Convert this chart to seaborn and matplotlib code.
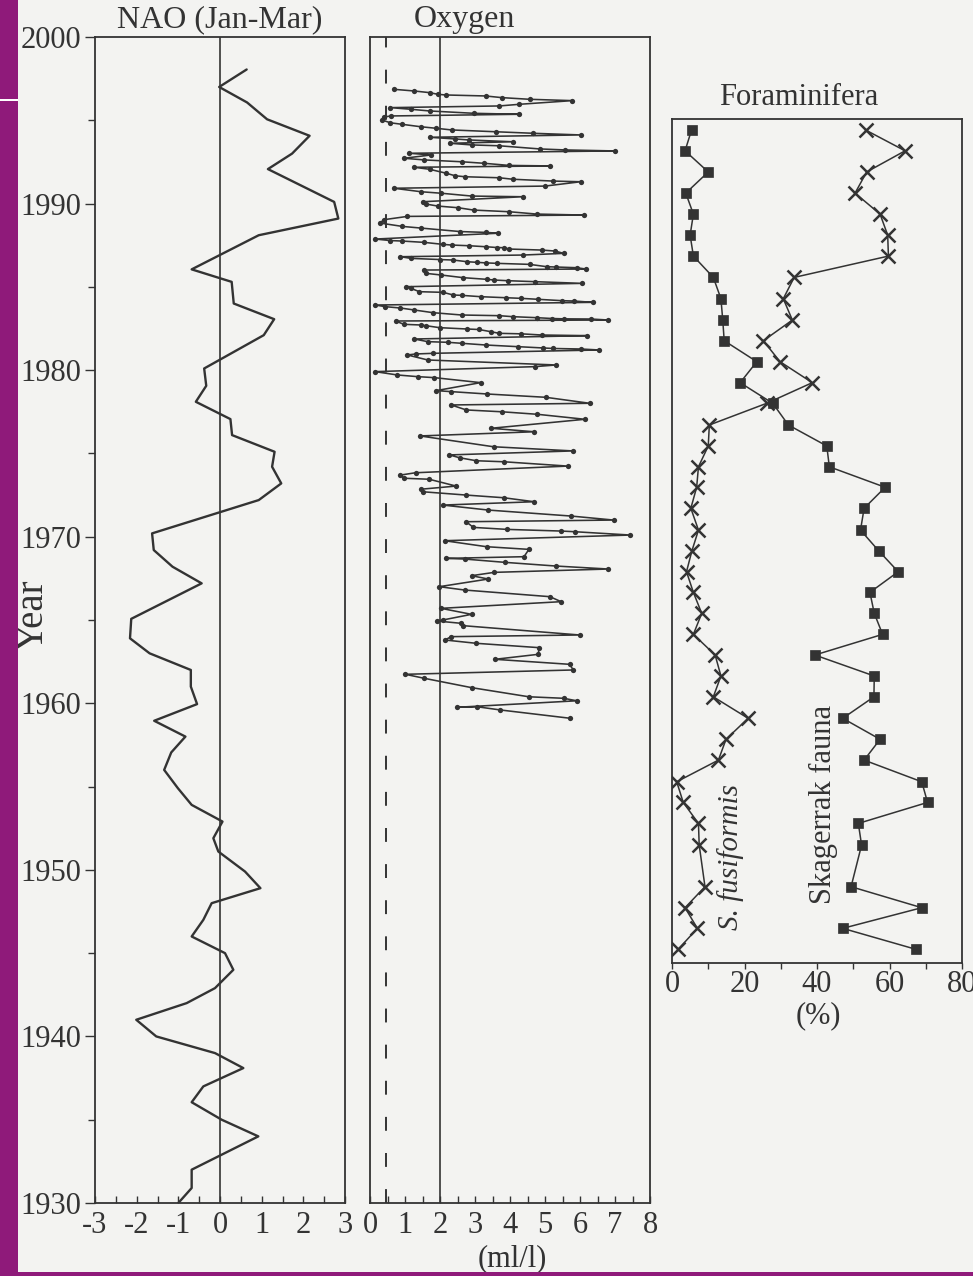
import numpy as np
import pandas as pd
import matplotlib
matplotlib.use("Agg")
import matplotlib.pyplot as plt
from matplotlib.patches import Rectangle
from matplotlib.ticker import MultipleLocator
import seaborn as sns

# ---------------- data ----------------
nao_year = [1998.05, 1997.0, 1996.07, 1995.06, 1994.07, 1993.0, 1992.07, 1990.1, 1989.1, 1988.1,
            1986.05, 1985.3, 1984.0, 1983.06, 1982.1, 1980.1, 1979.06, 1978.1, 1977.06, 1976.1,
            1975.1, 1974.2, 1973.2, 1972.2, 1970.2, 1969.2, 1968.2, 1967.2, 1965.07, 1963.9,
            1963.0, 1962.0, 1961.0, 1959.95, 1958.95, 1958.0, 1957.05, 1956.0, 1954.9, 1953.9,
            1952.9, 1951.9, 1951.1, 1949.9, 1948.9, 1948.0, 1947.0, 1946.0, 1945.0, 1944.0,
            1942.9, 1942.0, 1941.0, 1940.0, 1939.0, 1938.1, 1937.0, 1936.05, 1935.0, 1934.0,
            1932.0, 1930.9, 1930.0]
nao_val = [0.64, -0.02, 0.65, 1.13, 2.15, 1.73, 1.15, 2.74, 2.84, 0.93,
           -0.68, 0.28, 0.33, 1.30, 1.05, -0.38, -0.33, -0.58, 0.25, 0.29,
           1.31, 1.25, 1.47, 0.93, -1.63, -1.59, -1.14, -0.44, -2.13, -2.16,
           -1.69, -0.70, -0.70, -0.55, -1.58, -0.83, -1.17, -1.34, -1.01, -0.68,
           0.06, -0.16, -0.04, 0.60, 0.97, -0.20, -0.40, -0.68, 0.12, 0.32,
           -0.12, -0.80, -2.01, -1.53, -0.12, 0.56, -0.40, -0.68, 0.04, 0.92,
           -0.68, -0.68, -1.00]

oxy_year = [1959.10, 1959.60, 1959.79, 1959.76, 1960.15, 1960.30, 1960.39, 1960.94, 1961.50, 1961.74,
            1962.00, 1962.34, 1962.64, 1962.94, 1963.34, 1963.60, 1963.80, 1964.00, 1964.10, 1964.66,
            1964.80, 1964.94, 1965.00, 1965.34, 1965.70, 1966.10, 1966.40, 1966.80, 1967.00, 1967.46,
            1967.66, 1967.86, 1968.06, 1968.24, 1968.46, 1968.66, 1968.70, 1968.80, 1969.24, 1969.40,
            1969.76, 1970.10, 1970.30, 1970.34, 1970.44, 1970.56, 1970.90, 1971.00, 1971.24, 1971.60,
            1971.90, 1972.10, 1972.34, 1972.50, 1972.70, 1972.85, 1973.04, 1973.45, 1973.51, 1973.70,
            1973.84, 1974.24, 1974.50, 1974.56, 1974.74, 1974.91, 1975.15, 1975.40, 1976.05, 1976.30,
            1976.51, 1977.05, 1977.35, 1977.50, 1977.61, 1977.91, 1978.01, 1978.37, 1978.57, 1978.71,
            1978.77, 1979.25, 1979.55, 1979.61, 1979.71, 1979.91, 1980.21, 1980.31, 1980.61, 1980.91,
            1980.97, 1981.01, 1981.21, 1981.27, 1981.30, 1981.33, 1981.41, 1981.51, 1981.61, 1981.67,
            1981.71, 1981.87, 1982.07, 1982.11, 1982.18, 1982.21, 1982.31, 1982.44, 1982.47, 1982.55,
            1982.67, 1982.71, 1982.75, 1982.95, 1983.01, 1983.07, 1983.08, 1983.10, 1983.15, 1983.21,
            1983.27, 1983.31, 1983.45, 1983.61, 1983.73, 1983.81, 1983.91, 1984.07, 1984.15, 1984.17,
            1984.25, 1984.31, 1984.35, 1984.41, 1984.49, 1984.51, 1984.67, 1984.71, 1984.91, 1985.01,
            1985.21, 1985.31, 1985.37, 1985.41, 1985.45, 1985.55, 1985.71, 1985.81, 1986.01, 1986.07,
            1986.15, 1986.19, 1986.21, 1986.35, 1986.41, 1986.44, 1986.47, 1986.51, 1986.61, 1986.64,
            1986.71, 1986.81, 1986.91, 1987.01, 1987.15, 1987.21, 1987.27, 1987.35, 1987.36, 1987.41,
            1987.47, 1987.51, 1987.55, 1987.67, 1987.75, 1987.78, 1987.87, 1988.22, 1988.27, 1988.32,
            1988.53, 1988.63, 1988.83, 1989.03, 1989.23, 1989.31, 1989.37, 1989.51, 1989.61, 1989.75,
            1989.85, 1989.97, 1990.11, 1990.41, 1990.45, 1990.62, 1990.71, 1990.92, 1991.05, 1991.31,
            1991.35, 1991.46, 1991.55, 1991.61, 1991.67, 1991.82, 1992.06, 1992.18, 1992.26, 1992.29,
            1992.42, 1992.51, 1992.62, 1992.72, 1992.92, 1993.02, 1993.16, 1993.22, 1993.28, 1993.47,
            1993.52, 1993.62, 1993.71, 1993.82, 1993.88, 1993.98, 1994.12, 1994.22, 1994.31, 1994.42,
            1994.52, 1994.61, 1994.76, 1994.85, 1995.02, 1995.20, 1995.26, 1995.36, 1995.42, 1995.56,
            1995.66, 1995.76, 1995.86, 1995.96, 1996.18, 1996.26, 1996.36, 1996.46, 1996.52, 1996.56,
            1996.66, 1996.76, 1996.86]
oxy_val = [5.72, 3.72, 3.07, 2.49, 5.91, 5.53, 4.54, 2.90, 1.55, 1.01,
           5.81, 5.70, 3.57, 4.81, 4.83, 3.04, 2.14, 2.32, 5.99, 2.66,
           2.61, 1.91, 2.08, 2.90, 2.03, 5.46, 5.14, 2.70, 1.98, 3.38,
           2.90, 3.55, 6.81, 5.31, 3.86, 2.70, 2.17, 4.40, 4.54, 3.33,
           2.13, 7.44, 5.85, 5.46, 3.91, 2.95, 2.75, 6.96, 5.75, 3.38,
           2.08, 4.69, 3.82, 2.75, 1.50, 1.45, 2.46, 1.69, 0.97, 0.87,
           1.30, 5.65, 3.82, 3.04, 2.56, 2.27, 5.80, 3.53, 1.43, 4.69,
           3.46, 6.14, 4.78, 3.77, 2.75, 2.32, 6.28, 5.02, 3.33, 2.32,
           1.89, 3.16, 1.84, 1.36, 0.78, 0.15, 4.71, 5.32, 1.65, 1.07,
           1.30, 1.80, 6.55, 6.02, 5.24, 4.95, 4.22, 3.30, 2.62, 2.23,
           1.65, 1.26, 6.21, 4.90, 4.32, 3.69, 3.45, 3.11, 2.77, 1.99,
           1.60, 1.46, 0.97, 0.73, 6.80, 6.31, 5.53, 5.20, 4.76, 4.08,
           3.69, 2.62, 1.80, 1.26, 0.87, 0.44, 0.15, 6.36, 5.83, 5.49,
           4.81, 4.32, 3.88, 3.16, 2.62, 2.38, 2.09, 1.41, 1.17, 1.02,
           6.07, 4.71, 3.93, 3.54, 3.35, 2.67, 2.04, 1.60, 1.55, 6.17,
           5.90, 5.30, 5.05, 4.56, 3.64, 3.30, 3.06, 2.77, 2.38, 1.99,
           1.17, 0.87, 4.37, 5.53, 5.29, 4.90, 3.98, 3.83, 3.64, 3.30,
           2.82, 2.33, 2.09, 1.55, 0.92, 0.58, 0.15, 3.67, 3.30, 2.57,
           1.46, 0.92, 0.29, 0.39, 1.07, 6.12, 4.76, 3.98, 2.96, 2.52,
           1.94, 1.60, 1.50, 4.37, 2.91, 2.04, 1.46, 0.68, 5.00, 6.02,
           5.24, 4.08, 3.69, 2.72, 2.43, 2.18, 1.70, 1.26, 5.15, 3.98,
           3.25, 2.62, 1.55, 0.97, 1.75, 1.12, 6.99, 5.58, 4.85, 3.69,
           2.91, 2.28, 4.08, 2.82, 2.43, 1.70, 6.02, 4.66, 3.59, 2.33,
           1.89, 1.46, 0.92, 0.58, 0.34, 0.40, 0.60, 4.25, 2.96, 1.70,
           1.17, 0.58, 3.69, 4.27, 5.78, 4.56, 3.77, 3.30, 2.16, 1.94,
           1.70, 1.26, 0.68]

oxy_threshold = 0.45
nao_ref = 0.0
oxy_ref = 2.0

foram_year = [1994.42, 1993.17, 1991.90, 1990.63, 1989.37, 1988.11, 1986.85, 1985.57, 1984.29, 1983.01,
              1981.77, 1980.51, 1979.25, 1978.01, 1976.71, 1975.45, 1974.20, 1972.97, 1971.71, 1970.40,
              1969.16, 1967.90, 1966.66, 1965.40, 1964.14, 1962.90, 1961.64, 1960.39, 1959.10, 1957.84,
              1956.59, 1955.29, 1954.05, 1952.79, 1951.49, 1948.99, 1947.73, 1946.49, 1945.23]
skagerrak = [5.4, 3.6, 10.0, 3.8, 5.9, 5.0, 5.9, 11.4, 13.5, 14.0,
             14.4, 23.4, 18.8, 27.8, 32.1, 42.7, 43.4, 58.8, 53.0, 52.0,
             57.0, 62.4, 54.6, 55.8, 58.1, 39.4, 55.8, 55.7, 47.1, 57.4,
             53.0, 68.9, 70.5, 51.4, 52.3, 49.4, 68.9, 47.1, 67.3]
fusiformis = [53.4, 64.3, 53.7, 50.5, 57.4, 59.5, 59.7, 33.7, 30.7, 33.2,
              25.2, 29.8, 38.7, 26.1, 10.3, 10.0, 7.3, 6.8, 5.2, 7.3,
              5.5, 4.0, 5.9, 8.2, 5.9, 11.9, 13.5, 11.4, 21.0, 14.9,
              12.8, 1.3, 3.1, 7.3, 7.5, 9.1, 3.6, 7.0, 1.7]

nao_ticks = [-3, -2, -1, 0, 1, 2, 3]
oxy_ticks = [0, 1, 2, 3, 4, 5, 6, 7, 8]
foram_ticks = [0, 20, 40, 60, 80]
year_ticks = [1930, 1940, 1950, 1960, 1970, 1980, 1990, 2000]

nao_df = pd.DataFrame({"year": nao_year, "nao": nao_val})
oxy_df = pd.DataFrame({"year": oxy_year, "oxygen": oxy_val})
foram_df = pd.DataFrame({"year": foram_year, "skag": skagerrak, "fusi": fusiformis})

# ---------------- style ----------------
sns.set_theme(style="white")
plt.rcParams['font.family'] = ['Liberation Serif', 'DejaVu Serif']
plt.rcParams['axes.unicode_minus'] = False
plt.rcParams['lines.scale_dashes'] = False

INK = "#333333"
BG = "#f3f3f1"
PURPLE = "#8f1a7a"
FS = 22

W, H = 973, 1276
fig = plt.figure(figsize=(W / 100, H / 100), dpi=100, facecolor=BG)


def ax_px(l, t, r, b):
    a = fig.add_axes([l / W, 1 - b / H, (r - l) / W, (b - t) / H])
    a.set_facecolor("none")
    for s in a.spines.values():
        s.set_color(INK)
        s.set_linewidth(1.3)
        s.set_visible(True)
    return a


ax1 = ax_px(95, 37, 345, 1203)
ax2 = ax_px(370, 37, 650, 1203)
ax3 = ax_px(672, 119, 962, 963)

# NAO panel
sns.lineplot(data=nao_df, x="nao", y="year", sort=False, estimator=None,
             color=INK, linewidth=1.7, ax=ax1)
ax1.axvline(nao_ref, color=INK, linewidth=1.2)
ax1.set_xlim(-3, 3)
ax1.set_ylim(1930, 2000)
ax1.set_xticks(nao_ticks)
ax1.set_xticklabels([str(t) for t in nao_ticks])
ax1.xaxis.set_minor_locator(MultipleLocator(0.5))
ax1.set_yticks(year_ticks)
ax1.set_yticklabels([str(t) for t in year_ticks])
ax1.yaxis.set_minor_locator(MultipleLocator(5))
ax1.tick_params(axis="x", which="both", direction="in", bottom=True, top=False,
                length=5, width=1.0, color=INK, labelsize=FS, labelcolor=INK, pad=6)
ax1.tick_params(axis="y", which="major", direction="out", left=True, right=False,
                length=7, width=1.0, color=INK, labelsize=FS, labelcolor=INK, pad=3)
ax1.tick_params(axis="y", which="minor", direction="out", left=True, right=False,
                length=5, width=1.0, color=INK)
ax1.set_xlabel("")
ax1.set_ylabel("")

# Oxygen panel
sns.lineplot(data=oxy_df, x="oxygen", y="year", sort=False, estimator=None,
             color=INK, linewidth=1.15, marker="o", markersize=3.8,
             markeredgecolor=INK, markerfacecolor=INK, markeredgewidth=0, ax=ax2)
ax2.axvline(oxy_ref, color=INK, linewidth=1.2)
ax2.axvline(oxy_threshold, color=INK, linewidth=1.4, dashes=(10, 16))
ax2.set_xlim(0, 8)
ax2.set_ylim(1930, 2000)
ax2.set_xticks(oxy_ticks)
ax2.set_xticklabels([str(t) for t in oxy_ticks])
ax2.xaxis.set_minor_locator(MultipleLocator(0.5))
ax2.set_yticks([])
ax2.tick_params(axis="x", which="both", direction="in", bottom=True, top=False,
                length=5, width=1.0, color=INK, labelsize=FS, labelcolor=INK, pad=6)
ax2.set_xlabel("")
ax2.set_ylabel("")

# Foraminifera panel
sns.lineplot(data=foram_df, x="skag", y="year", sort=False, estimator=None,
             color=INK, linewidth=1.1, marker="s", markersize=7,
             markeredgecolor=INK, markerfacecolor=INK, markeredgewidth=0.5, ax=ax3)
sns.lineplot(data=foram_df, x="fusi", y="year", sort=False, estimator=None,
             color=INK, linewidth=1.1, marker="x", markersize=9.5,
             markeredgecolor=INK, markeredgewidth=1.8, ax=ax3)
ax3.set_xlim(0, 80)
ax3.set_ylim(1944.41, 1995.08)
ax3.set_xticks(foram_ticks)
ax3.set_xticklabels([str(t) for t in foram_ticks])
ax3.xaxis.set_minor_locator(MultipleLocator(10))
ax3.set_yticks([])
ax3.tick_params(axis="x", which="both", direction="out", bottom=True, top=False,
                length=4, width=1.0, color=INK, labelsize=FS, labelcolor=INK, pad=1)
ax3.set_xlabel("")
ax3.set_ylabel("")

# texts
fig.text(220 / W, 1 - 27 / H, "NAO (Jan-Mar)", ha="center", va="baseline", fontsize=23, color=INK)
fig.text(464 / W, 1 - 27 / H, "Oxygen", ha="center", va="baseline", fontsize=23, color=INK)
fig.text(799 / W, 1 - 105 / H, "Foraminifera", ha="center", va="baseline", fontsize=FS, color=INK)
fig.text(33 / W, 1 - 615 / H, "Year", rotation=90, ha="center", va="center", fontsize=28, color=INK)
fig.text(512 / W, 1 - 1266 / H, "(ml/l)", ha="center", va="baseline", fontsize=FS, color=INK)
fig.text(818 / W, 1 - 1023 / H, "(%)", ha="center", va="baseline", fontsize=FS, color=INK)
fig.text(731 / W, 1 - 857 / H, "S. fusiformis", rotation=90, ha="center", va="center",
         fontsize=21, style="italic", color=INK)
fig.text(823 / W, 1 - 804 / H, "Skagerrak fauna", rotation=90, ha="center", va="center",
         fontsize=22, color=INK)

# slide decoration
fig.patches.append(Rectangle((0, 0), 18 / W, 1, transform=fig.transFigure,
                             facecolor=PURPLE, edgecolor="none", zorder=5))
fig.patches.append(Rectangle((0, 0), 1, 4 / H, transform=fig.transFigure,
                             facecolor=PURPLE, edgecolor="none", zorder=5))
fig.patches.append(Rectangle((0, 1 - 101 / H), 18 / W, 2 / H, transform=fig.transFigure,
                             facecolor="white", edgecolor="none", zorder=6))

fig.savefig("out.png", dpi=100, facecolor=BG)
